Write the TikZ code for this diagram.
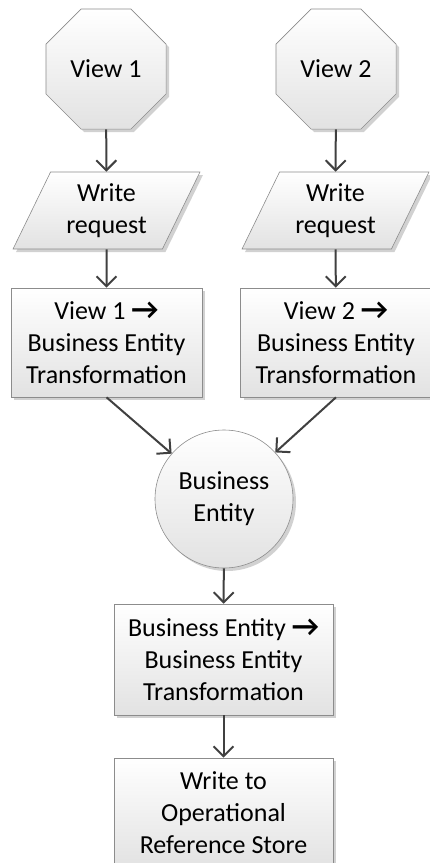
\documentclass[tikz,border=0pt]{standalone}
\usepackage{fontspec}
\setmainfont{Carlito}
\usetikzlibrary{shapes.geometric,shadows,arrows.meta}
\definecolor{edgegray}{HTML}{8C8C8C}
\definecolor{arrowgray}{HTML}{404040}
\definecolor{fillgray}{HTML}{E2E2E2}
\newcommand{\tarrow}{{\bfseries\fontsize{30}{32}\selectfont →}}

\begin{document}
\begin{tikzpicture}[x=1pt,y=-1pt,font=\fontsize{26}{32}\selectfont,
  box/.style={draw=edgegray,line width=0.6pt,top color=white,bottom color=fillgray,
    drop shadow={shadow xshift=3pt,shadow yshift=-3pt,fill=black!30,opacity=.6},
    align=center,inner sep=2pt},
  view/.style={box,regular polygon,regular polygon sides=8,minimum size=130pt},
  request/.style={box,trapezium,trapezium left angle=64,trapezium right angle=116,
    minimum width=183pt,minimum height=77pt},
  task/.style={box,rectangle},
  entity/.style={box,circle,minimum size=138pt},
  link/.style={draw=arrowgray,line width=2pt,-{Straight Barb[length=10pt,width=20pt]}}]

%FRAME
\useasboundingbox (0,0) rectangle (430,863);
%FRAME

\node[view](v1) at (106,69) {View 1};
\node[view](v2) at (336,69) {View 2};

\node[request](v3) at (106.5,210.5) {Write\\request};
\node[request](v4) at (335.5,210.5) {Write\\request};

\node[task,minimum width=191pt,minimum height=109pt](v5) at (106.5,342.5) {View 1 \tarrow\\Business Entity\\Transformation};
\node[task,minimum width=191pt,minimum height=109pt](v6) at (336,342.5) {View 2 \tarrow\\Business Entity\\Transformation};

\node[entity](v7) at (224,499) {Business\\Entity};

\node[task,minimum width=219pt,minimum height=111pt](v8) at (223.5,659.5) {Business Entity \tarrow\\Business Entity\\Transformation};
\node[task,minimum width=219pt,minimum height=110pt](v9) at (223.5,813) {Write to\\Operational\\Reference Store};

\draw[link] (v1) -- (v3);
\draw[link] (v2) -- (v4);

\draw[link] (v3) -- (v5);
\draw[link] (v4) -- (v6);

\draw[link] (v5.south) -- (v7);
\draw[link] (v6.south) -- (v7);

\draw[link] (v7) -- (v8);
\draw[link] (v8) -- (v9);

\end{tikzpicture}
\end{document}
